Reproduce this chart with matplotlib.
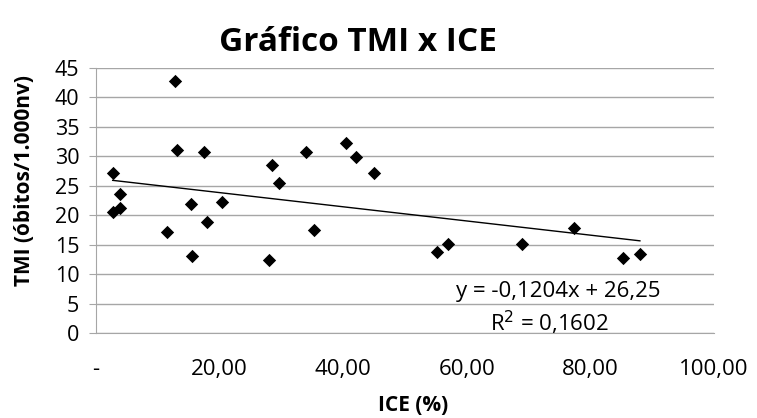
import numpy as np
import matplotlib
matplotlib.use("Agg")
import matplotlib.pyplot as plt
from matplotlib.ticker import FuncFormatter

plt.rcParams['font.family'] = ['Open Sans', 'DejaVu Sans']

# ICE (%) x TMI (obitos/1.000nv)
ice = [2.7, 2.7, 3.9, 3.9, 11.5, 12.8, 13.1, 15.3, 15.5, 17.4, 18.0, 20.4,
       28.0, 28.5, 29.6, 33.9, 35.2, 40.5, 42.0, 45.0, 55.1, 57.0, 68.9,
       77.4, 85.2, 88.0]
tmi = [27.2, 20.5, 21.3, 23.6, 17.2, 42.8, 31.1, 21.9, 13.1, 30.8, 18.9, 22.2,
       12.4, 28.6, 25.5, 30.8, 17.5, 32.2, 29.9, 27.1, 13.8, 15.2, 15.2,
       17.8, 12.7, 13.4]

slope = -0.1204
intercept = 26.25
r2 = 0.1602

xticks = [0, 20, 40, 60, 80, 100]
yticks = [0, 5, 10, 15, 20, 25, 30, 35, 40, 45]


def fmt_x(v, pos):
    if v == 0:
        return '-'
    return ('%.2f' % v).replace('.', ',')


fig = plt.figure(figsize=(7.57, 4.18), dpi=100)
ax = fig.add_axes([0.1268, 0.2033, 0.8165, 0.634])

ax.scatter(ice, tmi, marker='D', s=46, color='black', zorder=3, linewidths=0)

xl = np.array([min(ice), max(ice)])
ax.plot(xl, slope * xl + intercept, color='black', lw=1.0, zorder=2)

ax.text(74.8, 7.1, 'y = ' + ('%.4f' % slope).replace('.', ',') + 'x + ' + ('%.2f' % intercept).replace('.', ','),
        ha='center', va='center', fontsize=16)
ax.text(73.4, 1.8, r'R$^2$ = ' + ('%.4f' % r2).replace('.', ','),
        ha='center', va='center', fontsize=16)

ax.set_xlim(0, 100)
ax.set_ylim(0, 45)
ax.set_xticks(xticks)
ax.set_yticks(yticks)
ax.xaxis.set_major_formatter(FuncFormatter(fmt_x))
ax.yaxis.grid(True, color='#a6a6a6', lw=1)
ax.set_axisbelow(True)
for s in ['top', 'right']:
    ax.spines[s].set_visible(False)
for s in ['left', 'bottom']:
    ax.spines[s].set_color('#a6a6a6')
ax.tick_params(axis='y', colors='#a6a6a6', length=5, labelsize=15.5, labelcolor='black', pad=7)
ax.tick_params(axis='x', length=0, labelsize=16, pad=19)

ax.set_title('Gráfico TMI x ICE', fontsize=24, fontweight='bold', pad=12, x=0.424)
ax.set_xlabel('ICE (%)', fontsize=15, fontweight='bold')
ax.xaxis.set_label_coords(0.513, -0.232)
ax.set_ylabel('TMI (óbitos/1.000nv)', fontsize=15, fontweight='bold')
ax.yaxis.set_label_coords(-0.099, 0.577)

fig.savefig('out.png', dpi=100)
